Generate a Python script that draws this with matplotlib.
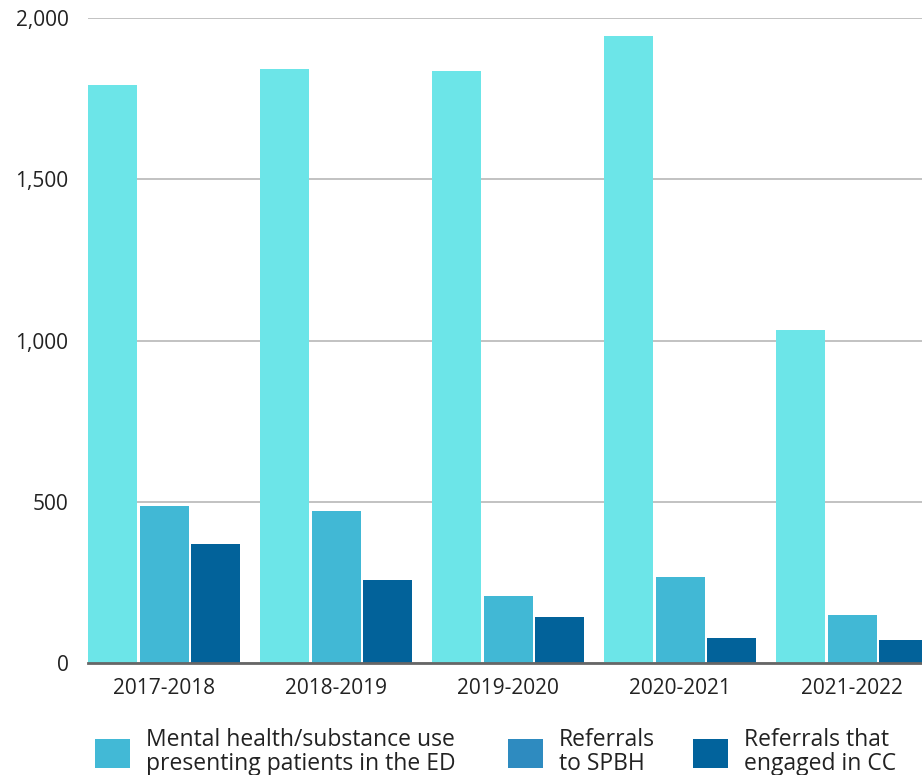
import matplotlib
matplotlib.use("Agg")
import matplotlib.pyplot as plt
from matplotlib.patches import Patch
import numpy as np

years = ["2017-2018", "2018-2019", "2019-2020", "2020-2021", "2021-2022"]
mh_presenting = [1792, 1842, 1836, 1944, 1033]
referrals_spbh = [487, 471, 208, 267, 149]
engaged_cc = [369, 257, 143, 78, 71]
series_labels = ["Mental health/substance use\npresenting patients in the ED",
                 "Referrals\nto SPBH",
                 "Referrals that\nengaged in CC"]
yticks = [0, 500, 1000, 1500, 2000]
ytick_labels = ["0", "500", "1,000", "1,500", "2,000"]

bar_colors = ["#6CE5E8", "#41B8D5", "#02629A"]
legend_colors = ["#42B9D6", "#2E8BC0", "#02639C"]

plt.rcParams['font.family'] = ['Open Sans', 'DejaVu Sans']
fig = plt.figure(figsize=(9.22, 7.75), dpi=100)
ax = fig.add_axes([88/922, 112/775, 834/922, 645/775])

x = np.arange(len(years))
w = 0.285
step = 0.2995
off0 = 0.1425
for k, (vals, col) in enumerate(zip([mh_presenting, referrals_spbh, engaged_cc], bar_colors)):
    ax.bar(x + off0 + k*step, vals, width=w, color=col, zorder=3, edgecolor='none')

ax.set_xlim(0, 834/172)
ax.set_ylim(0, 2000)
ax.set_yticks(yticks)
ax.set_yticklabels(ytick_labels)
ax.set_xticks(x + off0 + step)
ax.set_xticklabels(years)
ax.tick_params(axis='both', length=0, labelsize=15, colors='#222222')
ax.tick_params(axis='x', pad=11)
ax.tick_params(axis='y', pad=14)
for lab in ax.get_yticklabels():
    lab.set_clip_on(False)
ax.yaxis.grid(True, color='#BDBDBD', linewidth=1.3, zorder=0)
ax.set_axisbelow(True)
for s in ['top', 'right', 'left']:
    ax.spines[s].set_visible(False)
ax.spines['bottom'].set_color('#666666')
ax.spines['bottom'].set_linewidth(2)
ax.spines['bottom'].set_zorder(4)

legend_x = [95, 508, 693]
fs = 16.5
for lab, col, lx in zip(series_labels, legend_colors, legend_x):
    leg = fig.legend([Patch(facecolor=col, edgecolor='none')], [lab],
                     loc='center left', bbox_to_anchor=(lx/922, 1 - 752/775),
                     frameon=False, fontsize=fs, handlelength=35/(fs*100/72),
                     handleheight=35/(fs*100/72), handletextpad=16/(fs*100/72),
                     borderpad=0, borderaxespad=0, labelcolor='#222222')
    for t in leg.get_texts():
        t.set_linespacing(0.95)

fig.savefig("out.png", dpi=100)
